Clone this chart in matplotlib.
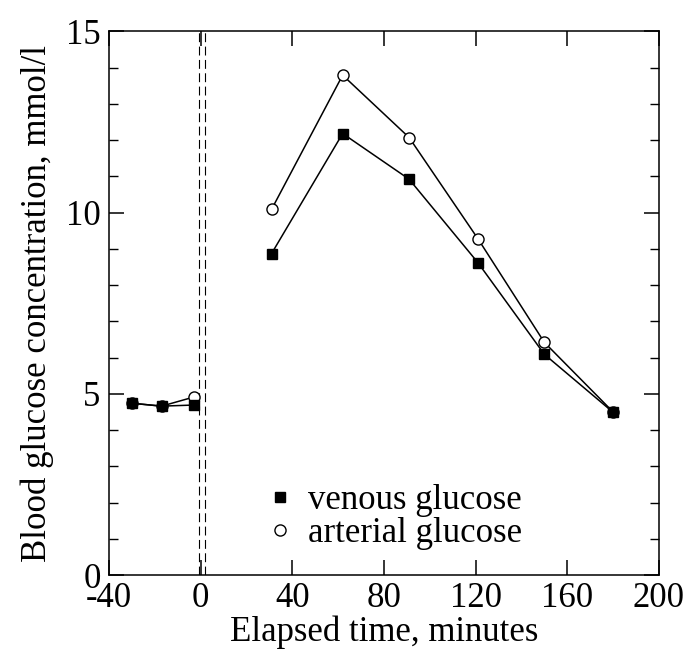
import matplotlib
matplotlib.use("Agg")
import matplotlib.pyplot as plt
from matplotlib.lines import Line2D
from matplotlib.ticker import MultipleLocator

plt.rcParams['font.family'] = ['Liberation Serif', 'DejaVu Serif']

# data
time_pre = [-30, -17, -3]
venous_pre = [4.74, 4.66, 4.69]
arterial_pre = [4.74, 4.66, 4.91]

time_post = [31, 62, 91, 121, 150, 180]
venous_post = [8.87, 12.18, 10.92, 8.62, 6.09, 4.49]
arterial_post = [10.09, 13.79, 12.07, 9.28, 6.42, 4.5]

infusion_marks = [-0.5, 2.0]

x_ticks = [-40, 0, 40, 80, 120, 160, 200]
y_ticks = [0, 5, 10, 15]

fig = plt.figure(figsize=(6.98, 6.52), dpi=100)
ax = fig.add_axes([0.156, 0.118, 0.788, 0.834])

for xm in infusion_marks:
    ax.axvline(xm, color="k", lw=0.8, linestyle=(0, (8, 4)), zorder=1)

lw = 1.1
for t, v in [(time_pre, arterial_pre), (time_post, arterial_post)]:
    ax.plot(t, v, color="k", lw=lw, marker="o", markersize=8,
            markerfacecolor="white", markeredgecolor="k", markeredgewidth=1.0, zorder=2)
for t, v in [(time_pre, venous_pre), (time_post, venous_post)]:
    ax.plot(t, v, color="k", lw=lw, marker="s", markersize=7.5,
            markerfacecolor="k", markeredgecolor="k", zorder=3)

ax.set_xlim(-40, 200)
ax.set_ylim(0, 15)
ax.set_xticks(x_ticks)
ax.set_xticklabels([str(x) for x in x_ticks])
ax.set_yticks(y_ticks)
ax.yaxis.set_minor_locator(MultipleLocator(1))

ax.tick_params(axis="both", which="major", direction="in", length=11, width=1.1,
               labelsize=25, top=True, right=True)
ax.tick_params(axis="x", which="major", pad=5)
ax.tick_params(axis="y", which="major", pad=6)
ax.tick_params(axis="y", which="minor", direction="in", length=6.5, width=1.0,
               left=True, right=True)
for s in ax.spines.values():
    s.set_linewidth(1.1)

ax.set_xlabel("Elapsed time, minutes", fontsize=25, labelpad=0)
ax.set_ylabel("Blood glucose concentration, mmol/l", fontsize=25)
ax.yaxis.set_label_coords(-0.100, 0.5)

handles = [
    Line2D([], [], linestyle="none", marker="s", markersize=7.5,
           markerfacecolor="k", markeredgecolor="k"),
    Line2D([], [], linestyle="none", marker="o", markersize=8,
           markerfacecolor="white", markeredgecolor="k", markeredgewidth=1.0),
]
ax.legend(handles, ["venous glucose", "arterial glucose"], loc="upper left",
          bbox_to_anchor=(0.376, 0.258), bbox_transform=fig.transFigure,
          frameon=False, fontsize=25, handlelength=1.0, handletextpad=0.3,
          borderpad=0, borderaxespad=0, labelspacing=0.0)

fig.savefig("out.png", dpi=100)
